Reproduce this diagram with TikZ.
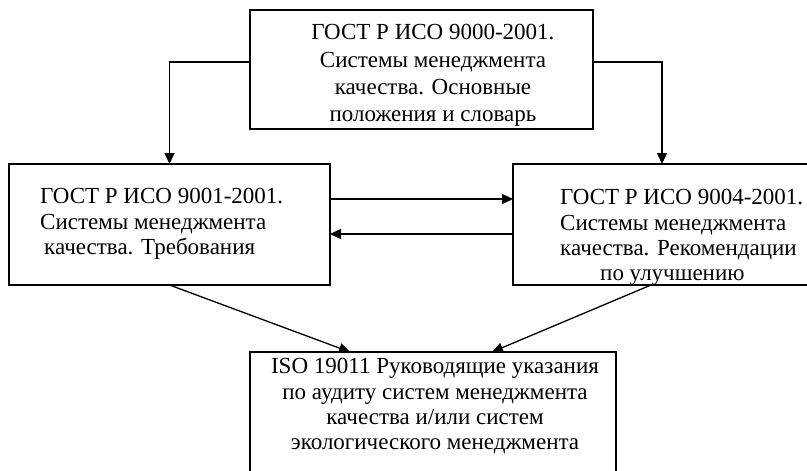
\documentclass[tikz,border=0pt]{standalone}
\usepackage{fontspec}
\setmainfont{Liberation Serif}
\usetikzlibrary{arrows.meta}
\begin{document}
\begin{tikzpicture}[x=1pt,y=-1pt,
  box/.style={draw, line width=1.3pt, inner sep=0pt, outer sep=0pt},
  lbl/.style={inner sep=0pt, font=\fontsize{23}{25.3}\selectfont},
  arr/.style={line width=1.3pt, -{Triangle[length=11pt,width=10pt]}}]
\useasboundingbox (0,0) rectangle (807,471);
\clip (0,0) rectangle (807,471);
% boxes
\node[box, minimum width=343pt, minimum height=119pt] (top) at (421.5,69.5) {};
\node[box, minimum width=321pt, minimum height=121pt] (left) at (169.5,224.5) {};
\node[box, minimum width=318pt, minimum height=121pt] (right) at (672,224.5) {};
\node[box, minimum width=366pt, minimum height=138pt] (bottom) at (433,421) {};
% texts
\node[lbl, align=center, font=\fontsize{23}{27.3}\selectfont] (toptext) at (433,75.5)
  {ГОСТ Р ИСО 9000-2001.\\Системы менеджмента\\качества. Основные\\положения и словарь};
\node[lbl, align=left, anchor=west] (lefttext) at (40,224)
  {ГОСТ Р ИСО 9001-2001.\\Системы менеджмента\\\hspace*{4pt}качества. Требования};
\node[lbl, align=left, anchor=west] (righttext) at (560,237.5)
  {ГОСТ Р ИСО 9004-2001.\\Системы менеджмента\\качества. Рекомендации\\\hspace*{40pt}по улучшению};
\node[lbl, align=center] (bottomtext) at (435,406.5)
  {ISO 19011 Руководящие указания\\по аудиту систем менеджмента\\качества и/или систем\\экологического менеджмента};
% connectors
\draw[arr] ([yshift=7.5pt]top.west) -| (left.north);
\draw[arr] ([yshift=7.5pt]top.east) -| ([xshift=-10pt]right.north);
\draw[arr] ([yshift=25.5pt]left.east) -- ([yshift=25.5pt]left.east -| right.west);
\draw[arr] ([yshift=-9.5pt]right.west) -- ([yshift=-9.5pt]right.west -| left.east);
\draw[arr] (left.south) -- ([xshift=-83pt]bottom.north);
\draw[arr] ([xshift=-21pt]right.south) -- ([xshift=59pt]bottom.north);
\end{tikzpicture}
\end{document}
